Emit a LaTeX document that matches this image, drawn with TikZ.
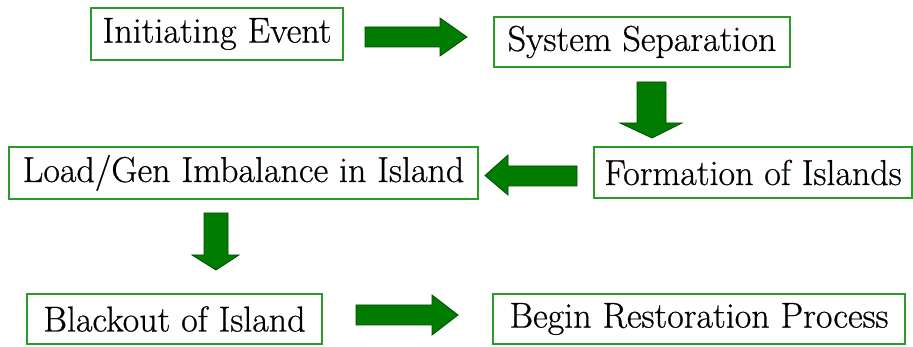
\documentclass[tikz,border=0pt]{standalone}
\usepackage{fontspec}
\setmainfont{Latin Modern Roman}[FakeBold=0.6]
\begin{document}
\begin{tikzpicture}[x=1pt,y=-1pt,
  box/.style={draw=boxgreen, line width=1.3pt, inner sep=0pt, font=\fontsize{36}{40}\selectfont, text=black},
  barrow/.style={fill=arrowgreen, draw=arrowedge, line width=0.8pt, line join=miter}]
\definecolor{boxgreen}{RGB}{40,155,40}
\definecolor{arrowgreen}{RGB}{0,125,0}
\definecolor{arrowedge}{RGB}{0,75,0}
\useasboundingbox[fill=white] (0,0) rectangle (913,347);
% boxes
\node[box, minimum width=252pt, minimum height=52pt] (init) at (217,34) {Initiating Event};
\node[box, minimum width=296pt, minimum height=50pt] (sep) at (642,42) {System Separation};
\node[box, minimum width=318pt, minimum height=51pt] (form) at (753,172.5) {Formation of Islands};
\node[box, minimum width=469pt, minimum height=52pt] (load) at (243.5,173) {Load/Gen Imbalance in Island};
\node[box, minimum width=295pt, minimum height=50pt] (black) at (174.5,319) {Blackout of Island};
\node[box, minimum width=412pt, minimum height=50pt] (rest) at (699,319) {Begin Restoration Process};
% block arrows
\draw[barrow] (365,27) -- (440,27) -- (440,18) -- (467,37) -- (440,56) -- (440,47) -- (365,47) -- cycle;
\draw[barrow] (637,82) -- (666,82) -- (666,123) -- (682,123) -- (652,138) -- (620,123) -- (637,123) -- cycle;
\draw[barrow] (577,166) -- (508,166) -- (508,155) -- (485,175.5) -- (508,195) -- (508,186) -- (577,186) -- cycle;
\draw[barrow] (204,213) -- (228,213) -- (228,255) -- (239,255) -- (216,270) -- (192,255) -- (204,255) -- cycle;
\draw[barrow] (356,305) -- (432,305) -- (432,295) -- (458,315) -- (432,335) -- (432,325) -- (356,325) -- cycle;
\end{tikzpicture}
\end{document}
